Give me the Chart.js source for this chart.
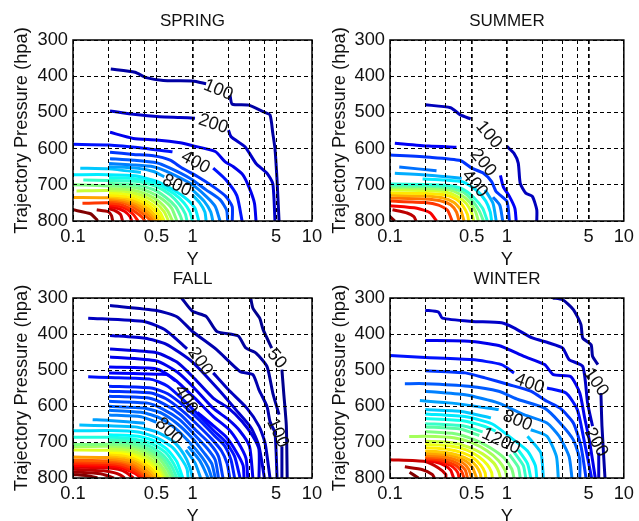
<!DOCTYPE html>
<html>
<head>
<meta charset="utf-8">
<title>Trajectory pressure contours</title>
<script src="https://cdn.jsdelivr.net/npm/chart.js@4"></script>
<style>
  html, body { margin: 0; padding: 0; background: #fff; overflow: hidden; width: 639px; height: 521px; }
  #wrap { position: relative; width: 639px; height: 521px; overflow: hidden; }
  canvas { position: absolute; }
</style>
</head>
<body>
<div id="wrap">
  <canvas id="spring" width="340" height="271" style="left:0;top:0"></canvas>
  <canvas id="summer" width="319" height="271" style="left:320px;top:0"></canvas>
  <canvas id="fall" width="340" height="270" style="left:0;top:258px"></canvas>
  <canvas id="winter" width="319" height="270" style="left:320px;top:258px"></canvas>
</div>
<script>
const xTicks = [0.1, 0.2, 0.3, 0.4, 0.5, 1, 2, 3, 4, 5, 10];
const xLabels = [0.1, 0.5, 1, 5, 10];
const yTicks = [300, 400, 500, 600, 700, 800];

// contour pieces are [Y, pressure], null = gap in the line
const springLevels = [100, 200, 300, 400, 500, 600, 700, 800, 900, 1000, 1100, 1200, 1300, 1400, 1500, 1600, 1700, 1800, 1900, 2000, 2100, 2200, 2300, 2400, 2500, 2600, 2700, 2800];
const springLines = [
  [[.207,380],[.33,389],[.41,404],[.57,412],[1,413],[1.3,421],null,[2.06,452],[2.15,477],[2.95,480],[3.9,498],[4.45,507],[4.7,558],[4.9,600],[5.1,688],[5.3,800]],
  [[.204,496],[.32,505],[.53,512],[.79,514],[1.05,516],null,[2,549],[2.1,567],[2.75,595],[3.4,641],[4.2,668],[4.7,697],[4.9,800]],
  [[.204,555],[.32,572],[.5,576],[.79,584],[1,592],[1.55,608],[1.87,636],[2.2,650],[2.65,673],[3,710],[3.3,751],[3.4,800]],
  [[.1,588],[.2,590],[.39,599],[.68,609],null,[1.49,654],[1.9,686],[2.35,730],[2.6,800]],
  [[.204,610],[.32,616],[.47,620],[.65,632],[.81,653],[1.1,677],[1.49,705],[1.9,732],[2.15,760],[2.15,800]],
  [[.204,628],[.32,632],[.5,639],[.65,654],[.95,682],[1.3,714],[1.7,741],[1.93,770],[1.97,800]],
  [[.2,641],[.32,645],[.47,650],[.6,662],[.98,698],[1.3,732],[1.55,760],[1.7,800]],
  [[.2,650],[.35,654],[.48,664],[.58,678],null,[1,714],[1.25,745],[1.42,775],[1.48,800]],
  [[.115,654],[.2,656],[.37,666],null,[1,728],[1.15,750],[1.27,775],[1.3,800]],
  [[.1,672],[.2,672],[.33,675],[.5,690],[.7,715],[.9,740],[1.05,765],[1.13,800]],
  [[.2,680],[.35,684],[.5,697],[.7,725],[.85,750],[.95,775],[1,800]],
  [[.122,687],[.2,688],[.35,691],[.5,705],[.65,728],[.78,755],[.87,780],[.9,800]],
  [[.2,696],[.33,700],[.47,713],[.6,735],[.72,760],[.79,785],[.82,800]],
  [[.1,700],[.2,703],[.32,707],[.44,720],[.56,740],[.67,765],[.74,800]],
  [[.2,710],[.31,714],[.42,727],[.53,747],[.62,772],[.68,800]],
  [[.107,717],[.2,716],[.3,720],[.4,733],[.5,752],[.58,775],[.63,800]],
  [[.2,722],[.29,726],[.38,738],[.47,757],[.54,778],[.58,800]],
  [[.2,728],[.28,732],[.36,743],[.44,760],[.51,780],[.55,800]],
  [[.2,732],[.27,736],[.35,748],[.42,764],[.48,783],[.52,800]],
  [[.1,735],[.2,736],[.27,741],[.34,752],[.4,768],[.46,785],[.5,800]],
  [[.2,740],[.26,744],[.32,755],[.38,770],[.44,787],[.47,800]],
  [[.2,744],[.26,749],[.31,759],[.36,773],[.41,788],[.45,800]],
  [[.12,751],[.2,750],[.25,754],[.29,763],[.34,777],[.38,790],[.4,800]],
  [[.2,755],[.24,759],[.28,767],[.32,782],[.35,800]],
  [[.2,760],[.23,764],[.27,773],[.3,788],[.31,800]],
  [[.2,766],[.22,770],[.25,782],[.26,800]],
  [[.158,769],[.197,774],[.21,785],[.215,800]],
  [[.1,769],[.14,780],[.158,796],[.16,800]]
];
const springLabels = [['100',1.64,438,22],['200',1.49,532,18],['400',1.06,638,28],['800',.74,702,25]];

const summerLevels = [100, 200, 300, 400, 500, 600, 700, 800, 900, 1000, 1100, 1200, 1300, 1400, 1500, 1600, 1700];
const summerLines = [
  [[.2,479],[.33,487],[.4,507],[.49,518],null,[1,594],[1.15,613],[1.25,640],[1.3,696],[1.45,723],[1.65,732],[1.8,769],[1.8,800]],
  [[.11,585],[.215,593],[.37,596],null,[.88,674],[.93,705],[1.05,732],[1.17,765],[1.2,800]],
  [[.1,618],[.22,624],[.4,633],[.5,654],[.63,668],[.74,691],[.81,719],[1,746],[1.05,800]],
  [[.12,651],[.25,661],null,[.76,734],[.87,757],[.92,800]],
  [[.11,668],[.23,674],[.41,682],null,[.65,714],[.76,751],[.81,800]],
  [[.19,684],[.3,687],[.42,692],[.55,715],[.66,745],[.72,775],[.74,800]],
  [[.1,698],[.2,699],[.32,702],[.42,712],[.52,735],[.62,765],[.68,800]],
  [[.1,703],[.2,704],[.32,708],[.42,720],[.5,742],[.58,772],[.63,800]],
  [[.1,708],[.2,710],[.32,714],[.4,727],[.48,748],[.54,775],[.57,800]],
  [[.1,714],[.2,716],[.3,720],[.38,733],[.45,752],[.5,778],[.52,800]],
  [[.1,722],[.2,724],[.3,728],[.37,740],[.42,758],[.46,782],[.47,800]],
  [[.1,729],[.2,731],[.28,736],[.35,748],[.4,768],[.43,800]],
  [[.1,737],[.2,739],[.27,744],[.33,755],[.37,775],[.39,800]],
  [[.1,745],[.2,749],[.26,756],[.31,770],[.34,800]],
  [[.1,758],[.17,765],[.22,777],[.25,800]],
  [[.105,769],[.14,778],[.16,788],[.167,800]],
  [[.1,788],[.11,800]]
];
const summerLabels = [['100',.7,562,50],['200',.627,639,50],['400',.53,697,50]];

const fallLevels = [50, 100, 150, 200, 250, 300, 350, 380, 400, 450, 500, 550, 600, 650, 700, 750, 800, 900, 1000, 1100, 1200, 1300, 1400, 1500, 1600, 1700, 1800, 1900, 2000, 2100, 2200, 2300, 2400, 2500, 2600, 2700, 2800, 2900, 3000, 3100, 3200];
const fallLines = [
  [[3.07,300],[3.2,328],[3.65,356],[3.9,388],[4.6,439],null,[5.6,499],[5.8,564],[6.1,656],[6.2,800]],
  [[.81,300],[1,337],[1.3,351],[1.6,393],[2.4,405],[2.8,439],[3.4,453],[4.2,490],[4.7,564],[5.3,624],null,[5.6,712],[5.6,800]],
  [[.204,321],[.5,335],[.74,352],[1,393],[1.6,444],[2.5,504],[3.2,513],[3.6,555],[4.2,601],[4.45,643],[4.9,675],[5.1,800]],
  [[.134,356],[.4,366],[.6,390],[.9,441],null,[1.49,508],[2,555],[2.85,606],[3.6,656],[4.05,703],[4.45,800]],
  [[.204,404],[.4,412],[.6,428],[1,478],[1.7,559],[2.3,610],[3.1,661],[3.6,712],[4,800]],
  [[.204,442],[.5,452],[.74,478],[1,518],[1.49,578],[2,606],[2.6,643],[3.2,684],[3.6,721],[3.6,800]],
  [[.204,464],[.5,475],[.74,505],[1,545],[1.49,606],[2,638],[2.5,670],[3,712],[3.2,800]],
  [[.2,492],[.5,497],[.7,525],[1,572],[1.5,630],[2,664],[2.4,700],[2.8,745],[2.9,800]],
  [[.2,508],[.5,512],[.61,513],[.72,530],null,[1.1,618],[1.5,655],[1.9,685],[2.3,725],[2.65,765],[2.7,800]],
  [[.134,519],[.2,521],[.45,526],[.62,545],[.85,585],[1.15,628],[1.5,668],[1.9,700],[2.25,740],[2.5,800]],
  [[.2,545],[.45,550],[.62,566],[.85,600],[1.15,640],[1.5,680],[1.85,710],[2.1,750],[2.25,800]],
  [[.2,559],[.45,564],[.6,580],[.82,613],[1.1,652],[1.45,692],[1.75,725],[1.95,760],[2.05,800]],
  [[.2,573],[.43,578],[.58,595],[.8,625],[1.05,665],[1.4,705],[1.65,740],[1.8,800]],
  [[.2,587],[.42,592],[.56,608],[.78,638],[1.02,677],[1.33,718],[1.55,750],[1.65,800]],
  [[.2,601],[.4,606],[.55,620],[.75,650],[1,690],[1.25,730],[1.45,760],[1.55,800]],
  [[.2,612],[.38,618],[.53,633],[.72,662],[.95,702],[1.2,742],[1.35,770],[1.45,800]],
  [[.2,625],[.37,630],[.5,645],null,[.92,712],[1.15,752],[1.27,780],[1.35,800]],
  [[.146,638],[.2,640],[.4,648],null,[.88,722],[1.05,758],[1.17,800]],
  [[.113,653],[.2,655],[.33,658],[.5,672],[.7,700],[.85,735],[.95,770],[1,800]],
  [[.1,669],[.2,668],[.35,672],[.5,688],[.68,715],[.82,750],[.9,775],[.92,800]],
  [[.2,680],[.35,684],[.48,697],[.62,722],[.74,755],[.83,800]],
  [[.1,687],[.2,687],[.33,692],[.46,705],[.6,730],[.7,762],[.79,800]],
  [[.2,694],[.32,698],[.44,712],[.57,737],[.67,768],[.74,800]],
  [[.2,700],[.31,704],[.42,718],[.55,742],[.64,772],[.7,800]],
  [[.1,707],[.2,706],[.3,710],[.41,723],[.53,746],[.61,775],[.67,800]],
  [[.1,713],[.2,712],[.3,716],[.4,729],[.5,750],[.58,778],[.63,800]],
  [[.2,718],[.29,722],[.38,734],[.48,755],[.56,780],[.6,800]],
  [[.1,722],[.2,723],[.29,727],[.37,739],[.46,759],[.54,782],[.58,800]],
  [[.2,728],[.28,732],[.36,744],[.45,763],[.52,785],[.56,800]],
  [[.2,733],[.27,737],[.35,748],[.43,767],[.5,788],[.53,800]],
  [[.2,738],[.27,742],[.34,752],[.42,771],[.48,790],[.5,800]],
  [[.1,742],[.2,743],[.26,747],[.33,757],[.4,775],[.48,800]],
  [[.2,748],[.26,752],[.32,761],[.38,778],[.45,800]],
  [[.1,750],[.2,752],[.26,756],[.31,765],[.37,781],[.43,800]],
  [[.1,755],[.2,757],[.25,761],[.3,770],[.36,785],[.41,800]],
  [[.1,760],[.2,762],[.25,766],[.29,774],[.35,788],[.39,800]],
  [[.1,765],[.2,767],[.25,771],[.29,779],[.34,790],[.37,800]],
  [[.1,770],[.2,772],[.24,776],[.28,785],[.32,800]],
  [[.1,776],[.18,780],[.22,785],[.25,792],[.27,800]],
  [[.1,783],[.17,788],[.2,795],[.22,800]],
  [[.1,790],[.14,795],[.16,800]]
];
const fallLabels = [['200',1.16,476,55],['400',.88,582,60],['800',.635,670,45],['50',5.06,469,50],['100',5.16,675,65]];

const winterLevels = [100, 200, 300, 400, 500, 600, 700, 800, 900, 1000, 1100, 1200, 1300, 1400, 1500, 1600, 1700, 1800, 1900, 2000, 2100, 2200, 2300, 2400, 2500, 2600, 2700, 2800];
const winterLines = [
  [[2.47,300],[3,305],[3.7,332],[4.3,374],[4.45,411],[5.25,430],[5.4,462],[6,485],null,[6.37,564],[6.5,656],[6.9,800]],
  [[.2,334],[.26,339],[.28,356],[.5,365],[.9,369],[1.15,383],[1.65,411],[2.3,425],[3,439],[3.4,471],[4.45,490],[4.9,592],[5.4,656],null,[6.1,730],[6.1,800]],
  [[.2,418],[.47,420],[.85,432],[1.4,462],[2.1,485],[2.5,513],[3.5,518],[4.2,564],[4.6,629],[5.1,700],[5.7,800]],
  [[.1,460],[.2,465],[.5,471],[.9,485],[1.15,508],null,[2.2,550],[3.2,564],[4,610],[4.5,684],[5.3,800]],
  [[.2,502],[.44,508],[.65,522],[1.05,541],[1.6,559],[2.2,587],[2.85,606],[3.7,647],[4.3,712],[4.75,800]],
  [[.134,538],[.2,538],[.47,545],[.85,559],[1.25,582],[2.1,606],[2.85,647],[3.7,694],[4.2,749],[4.2,800]],
  [[.2,559],[.44,569],[.85,592],[1.4,624],[2.2,647],[2.8,684],[3.4,740],[3.6,800]],
  [[.18,585],[.34,592],[.85,610],null,[1.6,666],[2.2,684],[2.65,740],[2.75,800]],
  [[.2,610],[.41,615],[.73,633],null,[1.5,684],[1.95,730],[2.05,800]],
  [[.2,622],[.45,630],[.75,650],[1.1,690],[1.5,725],[1.75,765],[1.8,800]],
  [[.2,635],[.42,641],[.65,657],[.8,670],null,[1.25,722],[1.5,760],[1.6,800]],
  [[.2,649],[.42,655],[.62,672],null,[1.15,728],[1.38,765],[1.45,800]],
  [[.2,658],[.4,664],[.58,682],null,[1.05,735],[1.25,770],[1.3,800]],
  [[.2,671],[.36,677],[.52,693],[.72,716],[.95,745],[1.1,775],[1.15,800]],
  [[.146,685],[.2,684],[.35,688],[.5,702],[.68,725],[.85,752],[.97,780],[1,800]],
  [[.2,698],[.34,702],[.47,714],[.62,733],[.77,758],[.85,782],[.88,800]],
  [[.2,707],[.33,711],[.45,722],[.57,740],[.68,763],[.74,785],[.75,800]],
  [[.2,716],[.31,720],[.42,730],[.52,745],[.6,765],[.65,785],[.66,800]],
  [[.2,725],[.3,729],[.39,737],[.48,750],[.55,768],[.59,787],[.6,800]],
  [[.2,731],[.29,734],[.37,742],[.45,754],[.51,772],[.55,800]],
  [[.2,737],[.28,740],[.35,747],[.42,758],[.47,775],[.5,800]],
  [[.2,741],[.27,744],[.33,751],[.39,762],[.44,778],[.46,800]],
  [[.2,745],[.26,748],[.31,755],[.37,766],[.41,782],[.43,800]],
  [[.2,748],[.25,751],[.3,759],[.35,771],[.38,785],[.39,800]],
  [[.2,751],[.24,755],[.29,764],[.33,778],[.35,800]],
  [[.1,749],[.2,754],[.26,772],[.3,790],[.3,800]],
  [[.134,769],[.19,777],[.23,790],[.24,800]],
  [[.147,784],[.175,800]]
];
const winterLabels = [['100',5.78,534,55],['400',1.56,538,20],['800',1.23,641,22],['1200',.89,698,25],['200',5.78,701,60]];

const fontFamily = '"Liberation Sans", Arial, sans-serif';

function clamp01(v) { return Math.max(0, Math.min(1, v)); }

function jet(t) {
  const r = clamp01(Math.min(4 * t - 1.5, -4 * t + 4.5));
  const g = clamp01(Math.min(4 * t - 0.5, -4 * t + 3.5));
  const b = clamp01(Math.min(4 * t + 0.5, -4 * t + 2.5));
  return `rgb(${Math.round(r * 255)},${Math.round(g * 255)},${Math.round(b * 255)})`;
}

const panelDecor = {
  id: 'panelDecor',
  afterDraw(chart, args, opts) {
    const { ctx, chartArea: a, scales } = chart;
    ctx.save();
    ctx.strokeStyle = '#000';
    ctx.lineWidth = 1.5;
    ctx.setLineDash([]);
    ctx.strokeRect(a.left, a.top, a.right - a.left, a.bottom - a.top);
    ctx.fillStyle = '#111';
    ctx.textAlign = 'center';
    ctx.textBaseline = 'middle';
    ctx.font = `17px ${fontFamily}`;
    ctx.fillText(opts.title, (a.left + a.right) / 2, a.top - 18.5);
    ctx.font = `18px ${fontFamily}`;
    opts.labels.forEach(([text, x, p, angle]) => {
      ctx.save();
      ctx.translate(scales.x.getPixelForValue(x), scales.y.getPixelForValue(p));
      ctx.rotate(angle * Math.PI / 180);
      ctx.fillText(text, 0, 0);
      ctx.restore();
    });
    ctx.restore();
  }
};

function drawPanel(id, title, levels, lines, labels, axisWidth, rightPad, axisHeight, titlePad, thick) {
  const maxLevel = levels[levels.length - 1];
  const datasets = lines.map((pts, i) => ({
    data: pts.map(p => p ? { x: p[0], y: p[1] } : { x: null, y: null }),
    borderColor: jet(levels[i] / maxLevel),
    borderWidth: 3,
    pointRadius: 0,
    tension: 0.2,
    fill: false
  }));
  new Chart(document.getElementById(id).getContext('2d'), {
    type: 'line',
    data: { datasets },
    options: {
      responsive: false,
      animation: false,
      events: [],
      layout: { padding: { top: 40, right: rightPad, left: 0, bottom: 0 } },
      plugins: {
        legend: { display: false },
        tooltip: { enabled: false },
        panelDecor: { title, labels }
      },
      scales: {
        x: {
          type: 'logarithmic',
          min: 0.1,
          max: 10,
          afterBuildTicks: axis => { axis.ticks = xTicks.map(value => ({ value })); },
          afterFit: axis => { axis.height = axisHeight; },
          ticks: {
            autoSkip: false,
            maxRotation: 0,
            padding: 5,
            color: '#111',
            font: { family: fontFamily, size: 18.3 },
            callback: v => (xLabels.includes(v) ? String(v) : '')
          },
          grid: {
            z: 1,
            color: '#000',
            drawTicks: false,
            lineWidth: c => (c.tick && thick.includes(c.tick.value) ? 1.7 : 1)
          },
          border: { display: false, dash: [4, 3] },
          title: { display: true, text: 'Y', color: '#111', padding: 0, font: { family: fontFamily, size: 18.3 } }
        },
        y: {
          reverse: true,
          min: 300,
          max: 800,
          afterBuildTicks: axis => { axis.ticks = yTicks.map(value => ({ value })); },
          afterFit: axis => { axis.width = axisWidth; },
          ticks: {
            padding: 5,
            color: '#111',
            font: { family: fontFamily, size: 18.3 }
          },
          grid: { z: 1, color: '#000', drawTicks: false, lineWidth: 1 },
          border: { display: false, dash: [4, 3] },
          title: { display: true, text: 'Trajectory Pressure (hpa)', color: '#111', padding: { top: titlePad, bottom: 0 }, font: { family: fontFamily, size: 18.3 } }
        }
      }
    },
    plugins: [panelDecor]
  });
}

drawPanel('spring', 'SPRING', springLevels, springLines, springLabels, 73, 28, 50, 11, [1]);
drawPanel('summer', 'SUMMER', summerLevels, summerLines, summerLabels, 70, 11, 50, 9, [0.5, 1, 5]);
drawPanel('fall', 'FALL', fallLevels, fallLines, fallLabels, 73, 28, 50, 11, [1]);
drawPanel('winter', 'WINTER', winterLevels, winterLines, winterLabels, 70, 11, 50, 9, [0.5, 1, 5]);
</script>
</body>
</html>
